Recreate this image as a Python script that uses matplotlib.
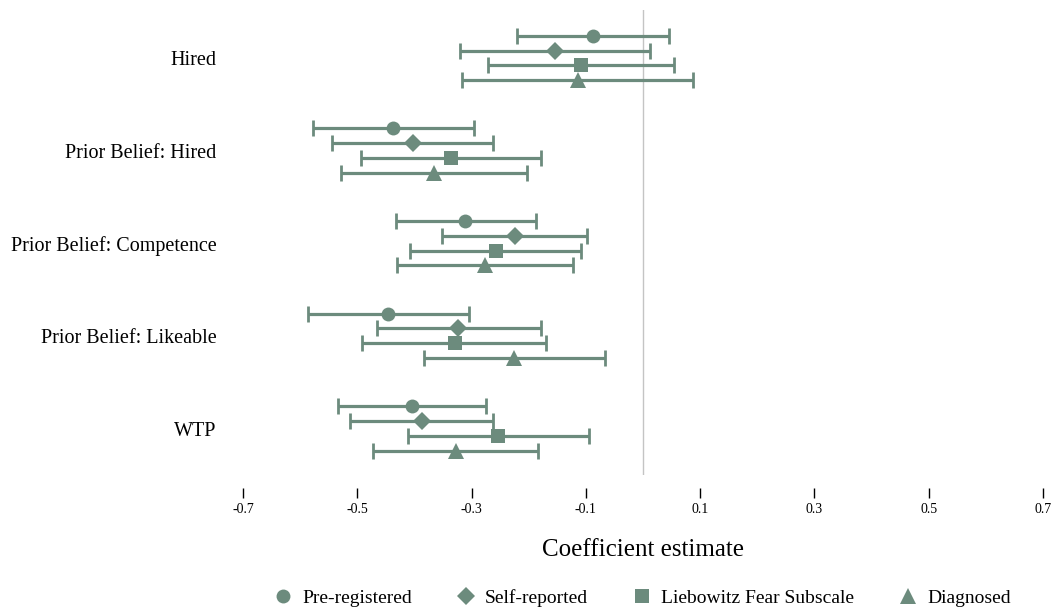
import matplotlib
matplotlib.use("Agg")
import matplotlib.pyplot as plt
import numpy as np

# ── Data ────────────────────────────────────────────────────
outcomes = ["Hired", "Prior Belief: Hired", "Prior Belief: Competence",
            "Prior Belief: Likeable", "WTP"]
measures = ["Pre-registered", "Self-reported", "Liebowitz Fear Subscale", "Diagnosed"]

# point estimates, one list per measure (in outcome order)
est_prereg = [-0.088, -0.437, -0.311, -0.446, -0.405]
est_self = [-0.154, -0.403, -0.224, -0.323, -0.386]
est_lsas = [-0.109, -0.336, -0.258, -0.329, -0.253]
est_diag = [-0.114, -0.366, -0.276, -0.225, -0.327]

# lower / upper confidence bounds
lo_prereg = [-0.221, -0.577, -0.433, -0.587, -0.533]
hi_prereg = [0.045, -0.296, -0.188, -0.305, -0.275]
lo_self = [-0.321, -0.545, -0.351, -0.466, -0.512]
hi_self = [0.013, -0.262, -0.098, -0.179, -0.263]
lo_lsas = [-0.272, -0.493, -0.408, -0.491, -0.412]
hi_lsas = [0.055, -0.178, -0.108, -0.169, -0.094]
lo_diag = [-0.316, -0.528, -0.430, -0.384, -0.472]
hi_diag = [0.087, -0.203, -0.123, -0.067, -0.183]

xticks = [-0.7, -0.5, -0.3, -0.1, 0.1, 0.3, 0.5, 0.7]

# ── Style ───────────────────────────────────────────────────
GREEN = "#6c8b7d"
SERIF = ["Liberation Serif", "DejaVu Serif"]
plt.rcParams["font.family"] = SERIF

series = [
    (est_prereg, lo_prereg, hi_prereg, "o", 10.0, 0.24),
    (est_self, lo_self, hi_self, "D", 9.2, 0.08),
    (est_lsas, lo_lsas, hi_lsas, "s", 10.5, -0.08),
    (est_diag, lo_diag, hi_diag, "^", 11.5, -0.24),
]

fig = plt.figure(figsize=(10.57, 6.12), dpi=100)
ax = fig.add_axes([243 / 1057, 1 - 475 / 612, 800 / 1057, 465 / 612])

base = np.arange(len(outcomes), 0, -1)  # top group first

ax.axvline(0, color="#c4c4c4", linewidth=1.0, zorder=1)

handles = []
for (est, lo, hi, mk, ms, off), name in zip(series, measures):
    est = np.array(est)
    err = [est - np.array(lo), np.array(hi) - est]
    y = base + off
    ax.errorbar(est, y, xerr=err, fmt="none", ecolor=GREEN, elinewidth=2.3,
                capsize=5.5, capthick=2.0, zorder=2)
    h, = ax.plot(est, y, linestyle="none", marker=mk, markersize=ms,
                 color=GREEN, markeredgewidth=0, zorder=3, label=name)
    handles.append(h)

ax.set_xlim(-0.7, 0.7)
ax.set_ylim(0.498, 5.518)
ax.set_xticks(xticks)
ax.set_xticklabels([f"{t:.1f}" for t in xticks])
ax.set_yticks(base)
ax.set_yticklabels(outcomes, fontsize=14.5)

for s in ax.spines.values():
    s.set_visible(False)
ax.spines["bottom"].set_position(("outward", 9))
ax.tick_params(axis="x", direction="out", length=7, width=1, color="black",
               labelsize=10, pad=4)
ax.tick_params(axis="y", length=0, pad=19)

fig.text(643 / 1057, 1 - 550 / 612, "Coefficient estimate", ha="center",
         va="center", fontsize=18)

fig.legend(handles=handles, loc="center", bbox_to_anchor=(642 / 1057, 1 - 598 / 612),
           ncol=4, frameon=False, fontsize=14, handlelength=1.0,
           handletextpad=0.5, columnspacing=2.25, markerscale=1.0)

fig.savefig("out.png", dpi=100)
